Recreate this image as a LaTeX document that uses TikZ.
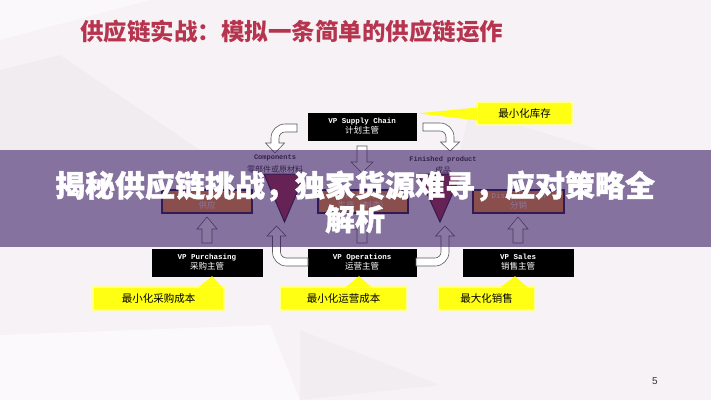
\documentclass[tikz,border=0pt]{standalone}
\usepackage{fontspec}
\usetikzlibrary{calc}
\newfontfamily\cjk{Noto Sans CJK SC}
\newfontfamily\cjkh[BoldFeatures={FakeBold=1.3}]{Noto Sans CJK SC}
\newfontfamily\mono{Liberation Mono}
\newfontfamily\sans{Liberation Sans}
\definecolor{bgc}{RGB}{246,242,246}
\definecolor{titlered}{RGB}{182,52,78}
\definecolor{bannerc}{RGB}{60,30,100}
\definecolor{boxfill}{RGB}{255,150,40}
\definecolor{boxline}{RGB}{40,20,60}
\definecolor{trired}{RGB}{165,40,60}
\definecolor{yel}{RGB}{255,255,20}
\definecolor{arrline}{RGB}{90,90,90}
\newcommand{\uparr}[4]{\draw[hol] ({#1-5},#4) -- ({#1-5},#3) -- ({#1-10},#3) -- (#1,#2) -- ({#1+10},#3) -- ({#1+5},#3) -- ({#1+5},#4) -- cycle;}
\begin{document}
\begin{tikzpicture}[x=1pt,y=-1pt,
  vpbox/.style={draw=black, fill=black, text=white, minimum width=108pt, minimum height=27pt, inner sep=0pt, align=center, font=\fontsize{7.5}{11}\selectfont},
  fnbox/.style={draw=boxline, line width=1.2pt, fill=boxfill, text=white, minimum width=90pt, minimum height=23pt, inner sep=0pt, align=center, font=\fontsize{7.5}{11}\selectfont},
  callout/.style={fill=yel, draw=yel!45!white, line width=1.5pt, minimum height=23pt, inner sep=0pt, font=\cjk\fontsize{10.5}{12}\selectfont},
  wedge/.style={fill=yel},
  hol/.style={draw=arrline, fill=white, line width=0.6pt},
  tri/.style={draw=boxline, line width=1pt, fill=trired},
  lbl/.style={inner sep=0pt, text=black!85, font=\fontsize{7}{9}\selectfont}
]
\useasboundingbox (0,0) rectangle (711,400);
\fill[bgc] (0,0) rectangle (711,400);
% faint background facets
\fill[white, opacity=0.5] (0,0) -- (150,0) -- (0,40) -- cycle;
\fill[black, opacity=0.025] (0,70) -- (60,55) -- (200,150) -- (0,150) -- cycle;
\fill[black, opacity=0.02] (470,110) -- (600,150) -- (460,150) -- cycle;
\fill[white, opacity=0.6] (0,335) -- (270,325) -- (300,400) -- (0,400) -- cycle;
\fill[black, opacity=0.02] (300,330) -- (440,385) -- (300,400) -- cycle;

% title
\node[font=\cjk\bfseries\fontsize{23.5}{26}\selectfont, text=titlered] (title) at (291.5,32) {供应链实战：模拟一条简单的供应链运作};

% boxes
\node[vpbox] (vpsc) at (362,126.5) {{\mono\bfseries VP Supply Chain}\\[-1pt]{\cjk\fontsize{8.5}{10}\selectfont 计划主管}};
\node[vpbox, minimum width=110pt] (vpp) at (207,262.5) {{\mono\bfseries VP Purchasing}\\[-1pt]{\cjk\fontsize{8.5}{10}\selectfont 采购主管}};
\node[vpbox] (vpo) at (362,262.5) {{\mono\bfseries VP Operations}\\[-1pt]{\cjk\fontsize{8.5}{10}\selectfont 运营主管}};
\node[vpbox, minimum width=110pt] (vps) at (518,262.5) {{\mono\bfseries VP Sales}\\[-1pt]{\cjk\fontsize{8.5}{10}\selectfont 销售主管}};

\node[fnbox] (sup) at (207,201.5) {{\mono Supply}\\[-1pt]{\cjk\fontsize{8.5}{10}\selectfont 供应}};
\node[fnbox] (prod) at (363,201.5) {{\mono Production}\\[-1pt]{\cjk\fontsize{8.5}{10}\selectfont 生产（制造）}};
\node[fnbox, minimum width=91pt] (dist) at (518.5,201.5) {{\mono Distribution}\\[-1pt]{\cjk\fontsize{8.5}{10}\selectfont 分销}};

% triangles
\draw[tri] (264,174) coordinate (t1a) -- (305,174) -- (284.5,222) coordinate (t1) -- cycle;
\draw[tri] (418,174) coordinate (t2a) -- (461,174) -- (440,222) coordinate (t2) -- cycle;

% labels
\node[lbl] (comp) at (275,158) {{\mono\bfseries Components}};
\node[lbl] (compc) at (275,169) {{\cjk\fontsize{8}{9}\selectfont 零部件或原材料}};
\node[lbl] (fin) at (443,160) {{\mono\bfseries Finished product}};
\node[lbl] (finc) at (443,170.5) {{\cjk\fontsize{8}{9}\selectfont 成品}};

% curved hollow arrows from VP Supply Chain
\draw[hol] (297,124) -- (285,124) .. controls (277.27,124) and (271,130.27) .. (271,138) -- (271,143) -- (265.5,143) -- (275,153) -- (284.5,143) -- (279,143) -- (279,138) .. controls (279,134.69) and (281.69,132) .. (285,132) -- (297,132) -- cycle;
\draw[hol] (423,123) -- (440,123) .. controls (447.73,123) and (454,129.27) .. (454,137) -- (454,142) -- (459.5,142) -- (450,151) -- (440.5,142) -- (446,142) -- (446,137) .. controls (446,133.69) and (443.31,131) .. (440,131) -- (423,131) -- cycle;
% down arrow
\draw[hol] (357,146) -- (357,162) -- (351,162) -- (362,173) -- (373,162) -- (367,162) -- (367,146) -- cycle;

% up arrows under function boxes
\uparr{207}{217}{229}{243}
\uparr{362}{217}{229}{243}
\uparr{518}{217}{229}{243}

% U connectors from VP Operations
\draw[hol] (308,266) -- (286.5,266) .. controls (278.77,266) and (272.5,259.73) .. (272.5,252) -- (272.5,236) -- (267,236) -- (276.5,226) -- (286,236) -- (280.5,236) -- (280.5,252) .. controls (280.5,255.31) and (283.19,258) .. (286.5,258) -- (308,258) -- cycle;
\draw[hol] (416,266) -- (435,266) .. controls (442.73,266) and (449,259.73) .. (449,252) -- (449,236) -- (454.5,236) -- (445,226) -- (435.5,236) -- (441,236) -- (441,252) .. controls (441,255.31) and (438.31,258) .. (435,258) -- (416,258) -- cycle;

% callouts
\node[callout, minimum width=95pt] (c1) at (524.5,113.5) {最小化库存};
\node[callout, minimum width=131pt] (c2) at (158.5,298.5) {最小化采购成本};
\node[callout, minimum width=127pt] (c3) at (343.5,298.5) {最小化运营成本};
\node[callout, minimum width=97pt] (c4) at (486.5,298.5) {最大化销售};
\fill[wedge] ($(c1.west)+(1,-6)$) -- ($(vpsc.north east)+(2,0.5)$) -- ($(c1.west)+(1,7)$) -- cycle;
\fill[wedge] ($(c2.north)+(40,1)$) -- ($(vpp.south)+(5,0)$) -- ($(c2.north)+(64,1)$) -- cycle;
\fill[wedge] ($(c3.north)+(2,1)$) -- ($(vpo.south)+(-3,0)$) -- ($(c3.north)+(28,1)$) -- cycle;
\fill[wedge] ($(c4.north)+(14,1)$) -- ($(vps.south)+(-3,0)$) -- ($(c4.north)+(41,1)$) -- cycle;

% banner overlay
\fill[bannerc, fill opacity=0.6] (0,150) rectangle (711,247);
\node[font=\cjkh\bfseries\fontsize{30}{32}\selectfont, text=white] (b1) at (355,186) {揭秘供应链挑战，独家货源难寻，应对策略全};
\node[font=\cjkh\bfseries\fontsize{30}{32}\selectfont, text=white] (b2) at (355,219) {解析};

% page number
\node[font=\sans\fontsize{10}{12}\selectfont, text=black!80] (pg) at (655,381) {5};
\end{tikzpicture}
\end{document}
